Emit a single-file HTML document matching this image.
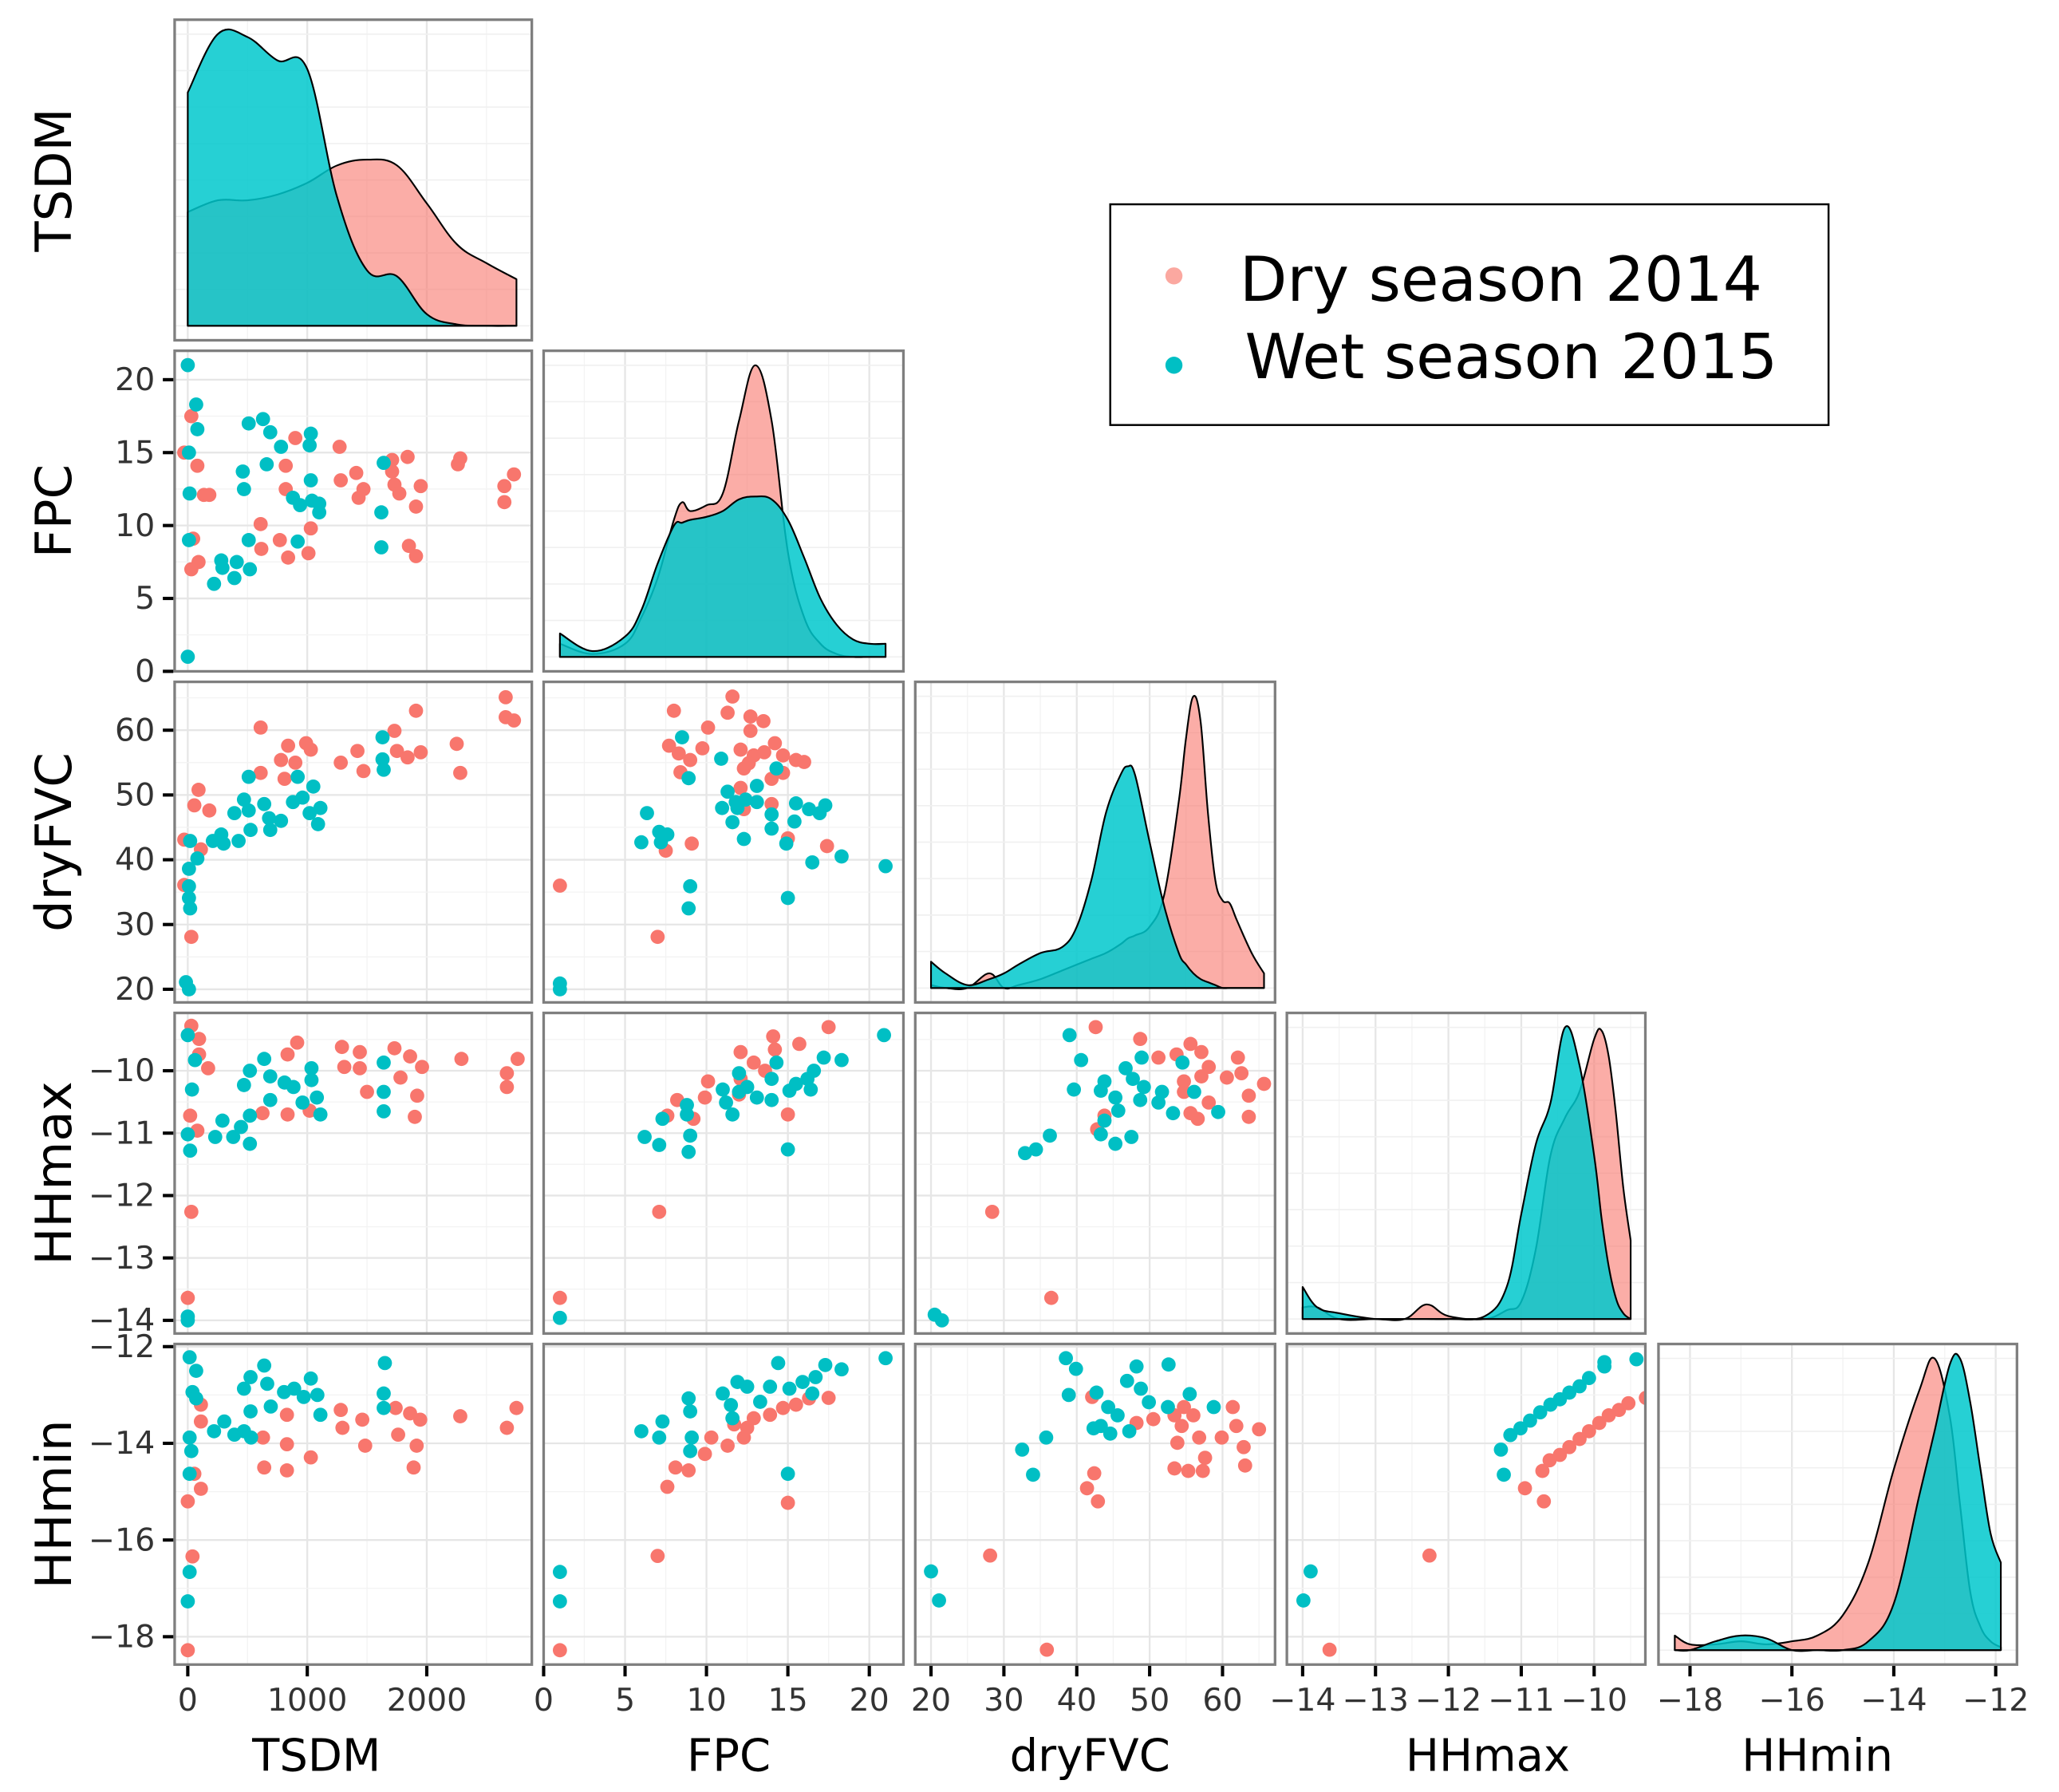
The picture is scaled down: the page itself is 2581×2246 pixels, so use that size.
<!DOCTYPE html>
<html><head><meta charset="utf-8"><style>
html,body{margin:0;padding:0;background:#fff;}
svg{display:block;}
text{font-family:"DejaVu Sans","Liberation Sans",sans-serif;}
</style></head><body>
<svg id="chart" xmlns="http://www.w3.org/2000/svg" width="2581" height="2246" viewBox="0 0 1568 1364" preserveAspectRatio="none">
<g id="grid"></g>
<g id="marks"></g>
<g id="frames"></g>
<g id="axes"></g>
<g>
  <rect x="845.5" y="155.5" width="547" height="168" fill="#fff" stroke="#000" stroke-width="1.5"/>
  <circle cx="894" cy="210" r="6.5" fill="#FBA8A0"/>
  <text x="944" y="229" font-size="47" fill="#000">Dry season 2014</text>
  <circle cx="894" cy="278" r="6.5" fill="#00BFC4"/>
  <text x="948" y="288" font-size="47" fill="#000">Wet season 2015</text>
</g>
</svg>
<script>
// ---------- data ----------
const varNames = ['TSDM','FPC','dryFVC','HHmax','HHmin'];
const tickTSDM = [0,1000,2000];
const tickFPC = [0,5,10,15,20];
const tickDry = [20,30,40,50,60];
const tickHHmax = [-14,-13,-12,-11,-10];
const tickHHmin = [-18,-16,-14,-12];

// density curves (relative height)
const densTSDMx = [0,250,500,750,1000,1250,1500,1750,2000,2250,2500,2750];
const densTSDMdry = [0.39,0.43,0.43,0.45,0.49,0.55,0.57,0.55,0.42,0.28,0.215,0.16];
const densTSDMwet = [0.80,1.0,0.99,0.91,0.88,0.44,0.19,0.17,0.04,0.005,0,0];
const densFPCx = [1,3,5,6,7,8,8.5,9,10,11,12,13,14,15,16,17,18,19,20,21];
const densFPCdry = [0.045,0.01,0.045,0.135,0.27,0.47,0.53,0.5,0.52,0.56,0.81,1.0,0.81,0.36,0.135,0.045,0.01,0,0,0];
const densFPCwet = [0.08,0.02,0.07,0.16,0.32,0.45,0.46,0.47,0.48,0.5,0.54,0.55,0.54,0.47,0.34,0.2,0.11,0.06,0.045,0.045];
const densDryx = [20,22,25,28,30,32,35,38,40,42,44,46,47,48,50,52,54,55,56,57,58,59,60,61,62,64,65.7];
const densDrydry = [0.01,0,0,0.05,0,0.01,0.03,0.06,0.08,0.1,0.12,0.15,0.17,0.18,0.21,0.32,0.64,0.86,1.0,0.91,0.6,0.37,0.3,0.29,0.23,0.12,0.05];
const densDrywet = [0.09,0.05,0.01,0.03,0.05,0.08,0.12,0.14,0.21,0.37,0.6,0.73,0.76,0.73,0.5,0.28,0.12,0.08,0.05,0.03,0.02,0.01,0,0,0,0,0];
const densHHmaxx = [-14,-13.8,-13.5,-13,-12.6,-12.3,-12,-11.5,-11.2,-11,-10.8,-10.6,-10.4,-10.2,-10,-9.9,-9.8,-9.7,-9.6,-9.5];
const densHHmaxdry = [0.04,0.04,0.0,0,0,0.05,0.01,0,0.03,0.06,0.24,0.56,0.69,0.78,0.96,0.99,0.9,0.7,0.45,0.27];
const densHHmaxwet = [0.11,0.04,0.02,0,0,0,0,0.01,0.11,0.36,0.6,0.74,1.0,0.87,0.56,0.35,0.18,0.07,0.02,0];
const densHHminx = [-18.3,-18,-17.5,-17,-16.5,-16,-15.5,-15,-14.5,-14,-13.5,-13.2,-12.9,-12.7,-12.5,-12.3,-12.1,-11.9];
const densHHmindry = [0.05,0.02,0.02,0.03,0.02,0.03,0.05,0.12,0.3,0.62,0.89,1.0,0.8,0.5,0.2,0.08,0.03,0.01];
const densHHminwet = [0,0,0.03,0.05,0.04,0,0,0,0.03,0.16,0.53,0.75,0.98,1.0,0.85,0.62,0.4,0.3];

// scatter points [x,y] per panel
const ptsFPCvsTSDMdry = [[30,17.5],[-30,15],[80,14.1],[135,12.1],[180,12.1],[45,9.1],[90,7.5],[30,7.0],[900,16],[820,14.1],[820,12.5],[610,10.1],[615,8.4],[770,9.0],[840,7.8],[1030,9.8],[1010,8.1],[1270,15.4],[1410,13.6],[1280,13.1],[1470,12.5],[1430,11.9],[1710,14.5],[1840,14.7],[1710,13.7],[1730,12.8],[1770,12.2],[1950,12.7],[1910,11.3],[1850,8.6],[1910,7.9],[2280,14.6],[2260,14.2],[2730,13.5],[2650,12.7],[2650,11.6]];
const ptsFPCvsTSDMwet = [[0,21],[70,18.3],[80,16.6],[10,15],[15,12.2],[10,9.0],[0,1],[510,17],[630,17.3],[690,16.4],[780,15.4],[1030,16.3],[1020,15.5],[460,13.7],[470,12.5],[660,14.2],[1030,13.1],[880,11.9],[940,11.4],[1040,11.7],[1100,11.5],[1100,10.9],[510,9.0],[920,8.9],[280,7.6],[410,7.5],[520,7.0],[290,7.1],[390,6.4],[220,6.0],[1640,14.3],[1620,10.9],[1620,8.5]];
const ptsDryvsTSDMdry = [[2660,65.1],[2660,62],[2730,61.5],[1910,63],[1730,59.9],[610,60.4],[840,57.6],[990,58],[1030,57],[780,55.4],[900,55],[810,52.5],[610,53.4],[1280,55],[1420,56.8],[1470,53.7],[1750,56.8],[1840,55.8],[1950,56.6],[2250,57.9],[2280,53.4],[90,50.8],[55,48.4],[180,47.6],[-30,43.1],[110,41.6],[-30,36.1],[30,28.1]];
const ptsDryvsTSDMwet = [[1630,58.9],[1630,55.5],[1640,53.9],[510,52.8],[920,52.8],[1050,51.3],[470,49.3],[880,48.9],[640,48.6],[390,47.2],[510,47.6],[960,49.6],[1020,47.2],[1110,48.0],[680,46.4],[780,46.0],[1090,45.5],[690,44.6],[525,44.6],[280,43.9],[210,42.9],[300,42.5],[425,42.9],[20,42.9],[80,40.2],[10,38.6],[10,35.9],[10,34.1],[20,32.5],[-15,21.1],[10,20]];
const ptsDryvsFPCdry = [[11.6,65.2],[8,63],[11.3,62.7],[12.7,62.1],[13.5,61.4],[10.1,60.4],[12.7,59.9],[7.7,57.6],[8.3,56.4],[9,55.4],[9.75,57.2],[8.4,53.5],[12.1,57],[12.9,56.1],[13.55,56.6],[14.2,58],[14.7,56.1],[15.5,55.4],[16,55.1],[12.3,54.1],[12.6,54.9],[14,52.5],[14.7,53.4],[12.1,51.1],[12.3,47.8],[14,48.6],[15,43.3],[17.4,42.1],[9.1,42.5],[7.5,41.4],[1,36],[7,28.1]];
const ptsDryvsFPCwet = [[8.5,58.9],[10.9,55.6],[14.3,54.1],[8.9,52.6],[13.1,51.4],[11.3,50.5],[10.96,48.0],[11.8,48.9],[12.4,49.3],[13.1,48.9],[11.9,48],[11.6,45.8],[14,47],[14,44.8],[12.3,43.2],[14.9,42.5],[15.5,48.7],[15.4,45.9],[16.3,47.8],[16.95,47.2],[17.3,48.4],[6.35,47.2],[7.1,44.3],[7.6,43.9],[7.2,42.7],[6.0,42.7],[9.0,35.9],[8.9,32.5],[16.5,39.6],[18.3,40.5],[21,39],[15,34.1],[1,20.9],[1,20]];
const ptsHHmaxvsTSDMdry = [[30,-9.28],[95,-9.49],[95,-9.74],[170,-9.96],[20,-10.72],[80,-10.96],[625,-10.68],[835,-9.74],[915,-9.55],[835,-10.7],[1020,-10.64],[1290,-9.62],[1310,-9.94],[1440,-9.7],[1440,-9.96],[1500,-10.34],[1730,-9.64],[1780,-10.11],[1860,-9.77],[1960,-9.94],[1920,-10.4],[1900,-10.74],[2290,-9.81],[2760,-9.81],[2670,-10.04],[2670,-10.26],[30,-12.26],[0,-13.64]];
const ptsHHmaxvsTSDMwet = [[0,-9.43],[60,-9.83],[35,-10.3],[0,-11.02],[20,-11.28],[230,-11.06],[290,-10.8],[380,-11.06],[520,-11.17],[445,-10.9],[520,-10.72],[640,-9.81],[520,-10],[470,-10.23],[690,-10.09],[690,-10.47],[810,-10.19],[885,-10.26],[1035,-9.96],[1035,-10.15],[960,-10.51],[1080,-10.43],[1110,-10.7],[1640,-9.87],[1640,-10.34],[1640,-10.65],[0,-13.94],[0,-14.0]];
const ptsHHmaxvsFPCdry = [[1,-13.64],[7.1,-12.26],[17.5,-9.3],[14.1,-9.45],[15.7,-9.57],[12.1,-9.7],[12.9,-9.87],[14.2,-9.66],[13.6,-10],[12.1,-10.13],[10.1,-10.17],[9.9,-10.43],[8.2,-10.47],[9.2,-10.77],[7.6,-10.72],[15,-10.7],[12,-10.38]];
const ptsHHmaxvsFPCwet = [[1,-13.96],[20.9,-9.43],[18.3,-9.83],[17.2,-9.79],[16.6,-10],[16.2,-10.13],[15.5,-10.21],[15.1,-10.32],[16.4,-10.3],[14.3,-9.87],[14,-10.13],[14,-10.47],[13.1,-10.43],[12.5,-10.26],[12,-10.04],[12,-10.34],[11,-10.3],[11.2,-10.51],[11.6,-10.7],[8.8,-10.55],[8.8,-10.7],[7.3,-10.77],[6.2,-11.06],[7.1,-11.19],[9,-11.04],[8.9,-11.3],[15,-11.26]];
const ptsHHmaxvsDrydry = [[28.4,-12.26],[36.5,-13.64],[42.6,-9.3],[48.7,-9.49],[51.2,-9.79],[53.7,-9.74],[55.6,-9.57],[57.1,-9.7],[58.1,-9.94],[54.7,-10.17],[57.1,-10.09],[60.6,-10.11],[62.6,-10.04],[62.1,-9.79],[65.7,-10.21],[63.6,-10.4],[63.6,-10.74],[55.6,-10.68],[56.6,-10.77],[58.1,-10.51],[54.7,-10.34],[42.8,-10.94],[43.8,-10.72]];
const ptsHHmaxvsDrywet = [[20.5,-13.91],[21.5,-14],[32.9,-11.32],[34.4,-11.26],[36.3,-11.04],[39,-9.43],[40.6,-9.83],[39.6,-10.3],[43.3,-10.32],[43.8,-10.17],[45.3,-10.43],[45.7,-10.64],[43.8,-10.8],[43.3,-11.02],[45.3,-11.17],[47.5,-11.06],[46.7,-9.96],[47.7,-10.13],[48.9,-9.79],[49.2,-10.26],[48.7,-10.47],[51.2,-10.51],[51.7,-10.34],[53.2,-10.68],[54.5,-9.87],[56.1,-10.34],[59.4,-10.66]];
const ptsHHminvsTSDMdry = [[110,-13.2],[110,-13.55],[55,-14.63],[110,-14.94],[0,-15.2],[40,-16.34],[0,-18.28],[630,-13.88],[640,-14.5],[830,-13.41],[830,-14.02],[830,-14.56],[1030,-14.29],[1280,-13.31],[1295,-13.68],[1460,-13.51],[1485,-14.05],[1740,-13.27],[1760,-13.82],[1860,-13.38],[1945,-13.51],[1915,-14.05],[1890,-14.5],[2280,-13.44],[2670,-13.68],[2750,-13.27]];
const ptsHHminvsTSDMwet = [[15,-12.22],[70,-12.5],[40,-12.94],[70,-13.07],[15,-13.88],[30,-14.16],[15,-14.63],[15,-16.66],[0,-17.27],[220,-13.75],[305,-13.55],[390,-13.82],[470,-13.75],[530,-13.88],[525,-13.34],[470,-12.87],[525,-12.63],[640,-12.39],[665,-12.77],[695,-13.24],[805,-12.94],[890,-12.87],[970,-13.04],[1030,-12.66],[1085,-13.0],[1110,-13.41],[1650,-12.34],[1640,-12.97],[1640,-13.27]];
const ptsHHminvsFPCdry = [[1,-18.28],[7,-16.33],[7.6,-14.9],[8.1,-14.5],[8.9,-14.56],[9.9,-14.22],[10.3,-13.88],[11.3,-14.05],[11.7,-13.61],[12.5,-13.68],[12.9,-13.48],[13.9,-13.41],[14.7,-13.27],[15.5,-13.2],[16.3,-13.07],[17.5,-13.06],[15,-15.23],[12.3,-13.88]];
const ptsHHminvsFPCwet = [[1,-16.66],[1,-17.27],[21,-12.24],[18.3,-12.47],[17.3,-12.38],[16.7,-12.63],[15.9,-12.73],[15.1,-12.87],[14.4,-12.34],[13.9,-12.83],[13.3,-13.14],[12.5,-12.83],[11.9,-12.73],[11,-12.97],[11.5,-13.21],[11.6,-13.48],[8.9,-13.07],[9,-13.34],[7.3,-13.55],[6.0,-13.75],[7.1,-13.88],[9.1,-13.88],[9,-14.16],[15,-14.63],[16.5,-12.97]];
const ptsHHminvsDrydry = [[28.1,-16.32],[35.9,-18.27],[42.1,-13.04],[42.4,-14.62],[41.4,-14.93],[42.9,-15.2],[48.2,-13.58],[50.5,-13.5],[53.4,-13.42],[54.7,-13.25],[56,-13.42],[54.4,-13.64],[56.8,-13.88],[53.8,-13.99],[53.4,-14.52],[55.3,-14.57],[57.3,-14.57],[57.6,-14.3],[59.9,-13.88],[61.9,-13.64],[61.4,-13.25],[62.9,-14.08],[63.1,-14.46],[65,-13.71]];
const ptsHHminvsDrywet = [[20,-16.65],[21.1,-17.25],[32.5,-14.13],[34,-14.65],[35.8,-13.88],[38.5,-12.24],[39.9,-12.46],[38.9,-13.0],[42.7,-12.95],[43.3,-13.64],[44.6,-13.8],[45.6,-13.42],[46.9,-12.71],[48.2,-12.41],[48.8,-12.87],[47.2,-13.75],[49.9,-13.15],[52.5,-13.25],[52.6,-12.37],[55.5,-12.98],[58.8,-13.25],[44.3,-13.25],[42.3,-13.69]];
const ptsHHminvsHHmaxdry = [[-12.26,-16.32],[-13.63,-18.27],[-10.95,-14.93],[-10.69,-15.2],[-10.71,-14.57],[-10.61,-14.35],[-10.47,-14.24],[-10.34,-14.08],[-10.2,-13.91],[-10.07,-13.75],[-9.93,-13.58],[-9.8,-13.42],[-9.66,-13.31],[-9.53,-13.17],[-9.29,-13.06]];
const ptsHHminvsHHmaxwet = [[-13.89,-16.65],[-13.99,-17.25],[-11.24,-14.65],[-11.28,-14.13],[-11.15,-13.83],[-11.01,-13.69],[-10.88,-13.53],[-10.74,-13.36],[-10.6,-13.2],[-10.47,-13.09],[-10.34,-12.95],[-10.2,-12.82],[-10.07,-12.65],[-9.86,-12.41],[-9.86,-12.32],[-9.42,-12.26]];

// ---------- layout / scales ----------
const colX = [[133,405],[414,688],[697,971],[980,1253],[1263,1536]];
const rowY = [[15,259],[267,511],[519,763],[771,1015],[1023,1267]];
const xs = [
  v => 143 + v*0.091,
  v => 414 + v*12.4,
  v => 709 + (v-20)*5.55,
  v => 992 + (v+14)*55.5,
  v => 1287 + (v+18)*38.8
];
const ys = [
  null,
  v => 511 - v*11.1,
  v => 753 - (v-20)*4.93,
  v => 815 + (-10 - v)*47.5,
  v => 1025 + (-12 - v)*36.8
];
const xTicks = [tickTSDM,tickFPC,tickDry,tickHHmax,tickHHmin];
const yTicks = [null,tickFPC,tickDry,tickHHmax,tickHHmin];
const RED='#F8766D', TEAL='#00BFC4';
const NS='http://www.w3.org/2000/svg';
const gGrid=document.getElementById('grid'), gMarks=document.getElementById('marks'),
      gFrames=document.getElementById('frames'), gAxes=document.getElementById('axes');
function mk(tag, attrs, parent){const e=document.createElementNS(NS,tag);for(const k in attrs)e.setAttribute(k,attrs[k]);parent.appendChild(e);return e;}
function fmt(v){return v<0?'\u2212'+Math.abs(v):String(v);}
function clipId(r,c){return 'clip'+r+c;}
const defs = mk('defs',{},document.getElementById('chart'));

function panel(r,c){
  const [x0,x1]=colX[c],[y0,y1]=rowY[r];
  const cp=mk('clipPath',{id:clipId(r,c)},defs);
  mk('rect',{x:x0,y:y0,width:x1-x0,height:y1-y0},cp);
  const bg=mk('rect',{x:x0,y:y0,width:x1-x0,height:y1-y0,fill:'#fff'},gGrid);
  
  
  const xt=xTicks[c], step=xt[1]-xt[0];
  for(let v=xt[0]-step*2; v<=xt[xt.length-1]+step*2; v+=step/2){
    const px=xs[c](v); if(px<x0||px>x1) continue;
    const major=Math.abs((v-xt[0])/step-Math.round((v-xt[0])/step))<1e-6;
    mk('line',{x1:px,x2:px,y1:y0,y2:y1,stroke:major?'#e6e6e6':'#f3f3f3','stroke-width':major?1.4:0.8},gGrid);
  }
  if(r>0 && r!==c){
    const yt=yTicks[r], st=yt[1]-yt[0];
    for(let v=yt[0]-st*2; v<=yt[yt.length-1]+st*2; v+=st/2){
      const py=ys[r](v); if(py<y0||py>y1) continue;
      const major=Math.abs((v-yt[0])/st-Math.round((v-yt[0])/st))<1e-6;
      mk('line',{x1:x0,x2:x1,y1:py,y2:py,stroke:major?'#e6e6e6':'#f3f3f3','stroke-width':major?1.4:0.8},gGrid);
    }
  }
  const fr=mk('rect',{x:x0,y:y0,width:x1-x0,height:y1-y0,fill:'none',stroke:'#7f7f7f','stroke-width':2},gFrames);
  
  
}

function smoothPath(pts){
  let d='';
  for(let k=0;k<pts.length-1;k++){
    const p0=pts[Math.max(0,k-1)], p1=pts[k], p2=pts[k+1], p3=pts[Math.min(pts.length-1,k+2)];
    const t=0.18;
    const c1x=p1[0]+(p2[0]-p0[0])*t, c1y=p1[1]+(p2[1]-p0[1])*t;
    const c2x=p2[0]-(p3[0]-p1[0])*t, c2y=p2[1]-(p3[1]-p1[1])*t;
    d+=' C'+c1x.toFixed(1)+','+c1y.toFixed(1)+' '+c2x.toFixed(1)+','+c2y.toFixed(1)+' '+p2[0].toFixed(1)+','+p2[1].toFixed(1);
  }
  return d;
}

function density(i, dx, dry, wet){
  const [x0,x1]=colX[i],[y0,y1]=rowY[i];
  const base=y1-11, H=222;
  for(let py=base; py>y0; py-=27.75){
    mk('line',{x1:x0,x2:x1,y1:py,y2:py,stroke:'#f0f0f0','stroke-width':1},gGrid);
  }
  const maxv=Math.max(...dry,...wet);
  const series=[['dry',dry,RED,0.6],['wet',wet,'#00C8CC',0.85]];
  series.forEach(([nm,vals,col,op])=>{
    const pts=vals.map((v,k)=>[xs[i](dx[k]), base-v/maxv*H]);
    let d='M'+pts[0][0].toFixed(1)+','+base+' L'+pts[0][0].toFixed(1)+','+pts[0][1].toFixed(1);
    d+=smoothPath(pts);
    d+=' L'+pts[pts.length-1][0].toFixed(1)+','+base+' Z';
    const p=mk('path',{d:d,fill:col,'fill-opacity':op,stroke:'#000','stroke-width':1.3,'stroke-linejoin':'round','clip-path':'url(#'+clipId(i,i)+')'},gMarks);
    
    
  });
}

function scatter(r,c,dry,wet){
  [['dry',dry,RED],['wet',wet,TEAL]].forEach(([nm,pts,col])=>{
    pts.forEach(p=>{
      const e=mk('circle',{cx:xs[c](p[0]).toFixed(1),cy:ys[r](p[1]).toFixed(1),r:5.4,fill:col,'clip-path':'url(#'+clipId(r,c)+')'},gMarks);
      
      
    });
  });
}

for(let r=0;r<5;r++) for(let c=0;c<=r;c++) panel(r,c);

density(0,densTSDMx,densTSDMdry,densTSDMwet);
density(1,densFPCx,densFPCdry,densFPCwet);
density(2,densDryx,densDrydry,densDrywet);
density(3,densHHmaxx,densHHmaxdry,densHHmaxwet);
density(4,densHHminx,densHHmindry,densHHminwet);

scatter(1,0,ptsFPCvsTSDMdry,ptsFPCvsTSDMwet);
scatter(2,0,ptsDryvsTSDMdry,ptsDryvsTSDMwet);
scatter(2,1,ptsDryvsFPCdry,ptsDryvsFPCwet);
scatter(3,0,ptsHHmaxvsTSDMdry,ptsHHmaxvsTSDMwet);
scatter(3,1,ptsHHmaxvsFPCdry,ptsHHmaxvsFPCwet);
scatter(3,2,ptsHHmaxvsDrydry,ptsHHmaxvsDrywet);
scatter(4,0,ptsHHminvsTSDMdry,ptsHHminvsTSDMwet);
scatter(4,1,ptsHHminvsFPCdry,ptsHHminvsFPCwet);
scatter(4,2,ptsHHminvsDrydry,ptsHHminvsDrywet);
scatter(4,3,ptsHHminvsHHmaxdry,ptsHHminvsHHmaxwet);

for(let r=1;r<5;r++){
  yTicks[r].forEach(v=>{
    const py=ys[r](v);
    mk('line',{x1:124,x2:132,y1:py,y2:py,stroke:'#000','stroke-width':2.5},gAxes);
    const t=mk('text',{x:118,y:py+8,'font-size':24,'text-anchor':'end',fill:'#333'},gAxes);
    t.textContent=fmt(v);
    
    
  });
}
for(let c=0;c<5;c++){
  xTicks[c].forEach(v=>{
    const px=xs[c](v);
    mk('line',{x1:px,x2:px,y1:1268,y2:1276,stroke:'#000','stroke-width':2.5},gAxes);
    const t=mk('text',{x:px,y:1302,'font-size':24,'text-anchor':'middle',fill:'#333'},gAxes);
    t.textContent=fmt(v);
    
    
  });
}
const xTitleX=[241,555,830,1133,1384];
varNames.forEach((n,i)=>{
  const t=mk('text',{x:xTitleX[i],y:1348,'font-size':34,'text-anchor':'middle',fill:'#000'},gAxes);
  t.textContent=n;
  
  
  const cy=(rowY[i][0]+rowY[i][1])/2;
  const s=mk('text',{x:0,y:0,'font-size':38,'text-anchor':'middle',fill:'#000',transform:'translate(54,'+cy+') rotate(-90)'},gAxes);
  s.textContent=n;
  
  
});
</script>
</body></html>
